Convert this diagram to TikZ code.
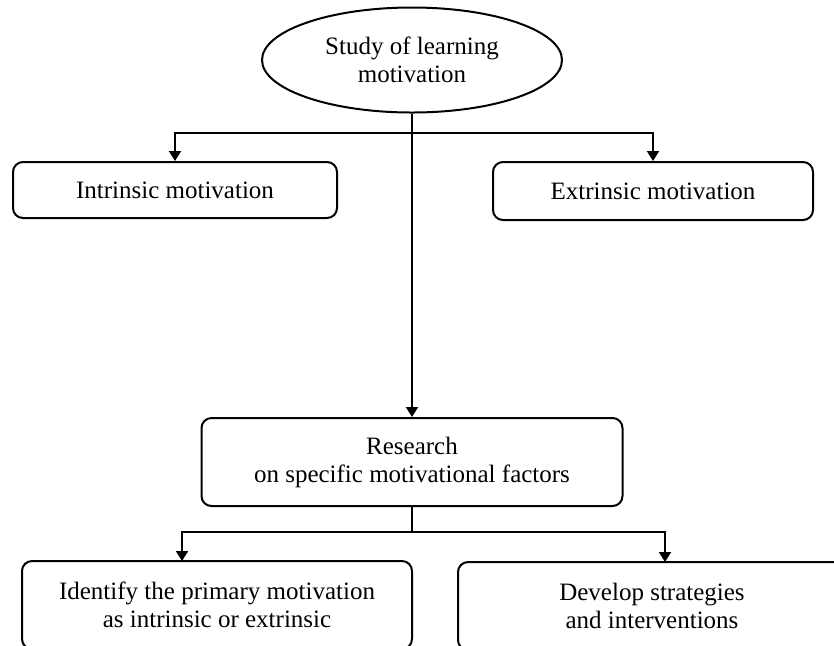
\documentclass[tikz,border=0pt]{standalone}
\usepackage{fontspec}
\setmainfont{Liberation Serif}
\usepackage[svgnames]{xcolor}
\usetikzlibrary{shapes.geometric,arrows.meta}
\colorlet{boxLine}{Black}
\colorlet{boxText}{Black}

\begin{document}
\begin{tikzpicture}[
  x=0.5pt,
  y=-0.5pt,
  every node/.style={
    font=\fontsize{12.5}{14}\selectfont,
    text=boxText,
    align=center,
    inner sep=0pt,
  },
  topicOval/.style={
    ellipse,
    draw=boxLine,
    line width=1pt,
    minimum width=150pt,
    minimum height=52.5pt,
  },
  motiveBox/.style={
    rectangle,
    rounded corners=5pt,
    draw=boxLine,
    line width=1pt,
    minimum height=28pt,
  },
  flowArrow/.style={
    draw=boxLine,
    line width=1pt,
    -{Triangle[length=5pt,width=6pt]},
  },
  flowLine/.style={
    draw=boxLine,
    line width=1pt,
  }
]
\useasboundingbox (0,0) rectangle (834,645);
\clip (0,0) rectangle (834,645);
\fill[white] (0,0) rectangle (834,645);

\node[topicOval] (study) at (412,60) {Study of learning\\motivation};
\node[motiveBox,minimum width=162pt] (intrinsic) at (175,190) {Intrinsic motivation};
\node[motiveBox,minimum width=160pt,minimum height=29pt] (extrinsic) at (653,191) {Extrinsic motivation};
\node[motiveBox,minimum width=210.5pt,minimum height=44pt] (research) at (412,462)
  {Research\\on specific motivational factors};
\node[motiveBox,minimum width=195pt,minimum height=44pt] (identify) at (217,605)
  {Identify the primary motivation\\as intrinsic or extrinsic};
\node[motiveBox,minimum width=194pt,minimum height=44pt] (develop) at (652,606)
  {Develop strategies\\and interventions};

% branch under the oval
\coordinate (splitTop) at (412,133);
\draw[flowArrow] (study.south) -- (research.north);
\draw[flowArrow] (splitTop) -| (intrinsic.north);
\draw[flowArrow] (splitTop) -| (extrinsic.north);

% branch under the research box
\coordinate (splitLow) at (412,532);
\coordinate (identifyTip) at (182,561);
\coordinate (developTip) at (665,562);
\draw[flowLine] (research.south) -- (splitLow);
\draw[flowArrow] (splitLow) -| (identifyTip);
\draw[flowArrow] (splitLow) -| (developTip);
\end{tikzpicture}
\end{document}
